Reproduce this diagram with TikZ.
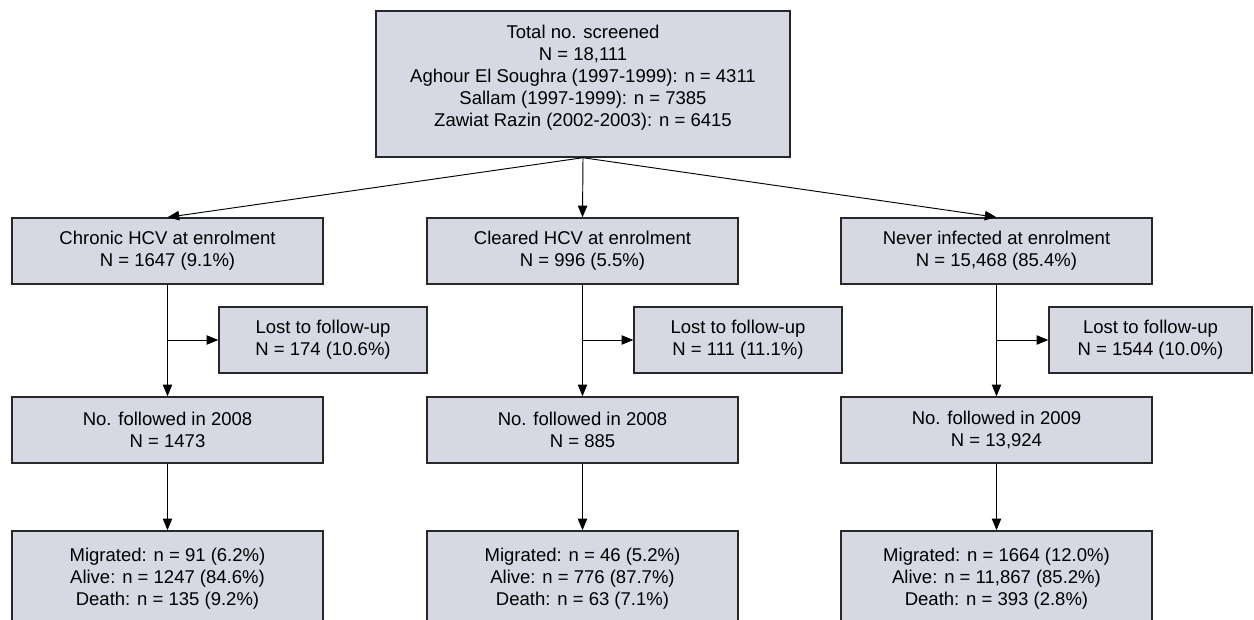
\documentclass[tikz,border=0pt]{standalone}
\usepackage{fontspec}
\setmainfont{Liberation Sans}
\usetikzlibrary{arrows.meta}

\definecolor{boxfill}{RGB}{214,217,227}
\definecolor{boxline}{RGB}{40,40,40}
\tikzset{
  txt/.style={align=center, inner sep=0pt, font=\fontsize{15.8}{18.7}\selectfont},
  box/.style={txt, draw=boxline, fill=boxfill, line width=1.2pt},
  wide/.style={box, minimum width=9.33cm, minimum height=1.98cm},
  lost/.style={box, minimum width=6.24cm, minimum height=1.98cm},
  flow/.style={-{Triangle[length=10pt,width=8pt]}, line width=0.8pt}
}

\begin{document}
\begin{tikzpicture}[x=0.03cm,y=-0.03cm]
\clip (0,0) rectangle (1254,620);

% screening
\node[box, minimum width=12.42cm, minimum height=4.38cm] (total) at (583,84) {};
\node[txt] (totaltxt) at (583,78) {Total no. screened\\N = 18,111\\Aghour El Soughra (1997-1999): n = 4311\\Sallam (1997-1999): n = 7385\\Zawiat Razin (2002-2003): n = 6415};

% status at enrolment
\node[wide] (chronic) at (167.5,251) {Chronic HCV at enrolment\\N = 1647 (9.1\%)};
\node[wide] (cleared) at (582.5,251) {Cleared HCV at enrolment\\N = 996 (5.5\%)};
\node[wide] (never) at (996.5,251) {Never infected at enrolment\\N = 15,468 (85.4\%)};

% lost to follow-up
\node[lost] (lostA) at (323,340) {Lost to follow-up\\N = 174 (10.6\%)};
\node[lost] (lostB) at (738,340) {Lost to follow-up\\N = 111 (11.1\%)};
\node[lost, minimum width=6.09cm] (lostC) at (1150.5,340) {Lost to follow-up\\N = 1544 (10.0\%)};

% followed
\node[wide] (folA) at (167.5,430) {No. followed in 2008\\N = 1473};
\node[wide] (folB) at (582.5,430) {No. followed in 2008\\N = 885};
\node[wide] (folC) at (996.5,430) {No. followed in 2009\\N = 13,924};

% outcomes
\node[wide, minimum height=2.88cm] (outA) at (167.5,579) {Migrated: n = 91 (6.2\%)\\Alive: n = 1247 (84.6\%)\\Death: n = 135 (9.2\%)};
\node[wide, minimum height=2.88cm] (outB) at (582.5,579) {Migrated: n = 46 (5.2\%)\\Alive: n = 776 (87.7\%)\\Death: n = 63 (7.1\%)};
\node[wide, minimum height=2.88cm] (outC) at (996.5,579) {Migrated: n = 1664 (12.0\%)\\Alive: n = 11,867 (85.2\%)\\Death: n = 393 (2.8\%)};

\coordinate (brA) at (167.5,340);
\coordinate (brB) at (582.5,340);
\coordinate (brC) at (996.5,340);

\draw[flow] (total.south) -- (chronic.north);
\draw[flow] (total.south) -- (cleared.north);
\draw[flow] (total.south) -- (never.north);

\draw[flow] (chronic) -- (folA);
\draw[flow] (cleared) -- (folB);
\draw[flow] (never) -- (folC);

\draw[flow] (brA) -- (lostA);
\draw[flow] (brB) -- (lostB);
\draw[flow] (brC) -- (lostC);

\draw[flow] (folA) -- (outA);
\draw[flow] (folB) -- (outB);
\draw[flow] (folC) -- (outC);
\end{tikzpicture}
\end{document}
